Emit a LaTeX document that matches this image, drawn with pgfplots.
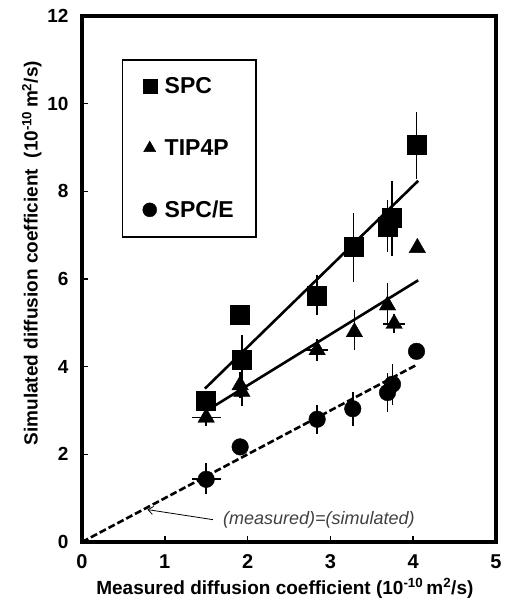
\documentclass[border=0pt]{standalone}
\usepackage{fontspec}
\setmainfont{Liberation Sans}
\usepackage{pgfplots}
\pgfplotsset{compat=1.18}
\usetikzlibrary{arrows.meta}

\begin{document}
\begin{tikzpicture}
\useasboundingbox (-82pt,-61pt) rectangle (422pt,542pt);
\begin{axis}[
  width=414pt, height=526pt, scale only axis,
  xmin=0, xmax=5, ymin=0, ymax=12,
  xtick={0,1,2,3,4,5}, ytick={0,2,4,6,8,10,12},
  tick align=inside, xtick pos=left, ytick pos=left,
  major tick length=6pt,
  tick style={line width=1.5pt,black},
  axis line style={line width=3.8pt},
  /pgf/number format/assume math mode=true,
  yticklabel style={font=\fontsize{19}{19}\selectfont\bfseries,xshift=-10pt},
  xticklabel style={font=\fontsize{20}{20}\selectfont\rmfamily\bfseries,yshift=-9.5pt},
  xlabel={Measured diffusion coefficient (10\textsuperscript{-10}\,m\textsuperscript{2}/s)},
  ylabel={Simulated diffusion coefficient \ (10\textsuperscript{-10}\,m\textsuperscript{2}/s)},
  label style={font=\fontsize{19}{19}\selectfont\bfseries},
  xlabel style={at={(axis description cs:0.49,-0.088)},anchor=center},
  ylabel style={at={(axis description cs:-0.121,0.549)},anchor=center},
  error bars/error bar style={line width=1.7pt,black},
  error bars/error mark options={mark size=4.5pt,line width=1.7pt,black},
  legend style={at={(0.0966,0.918)},anchor=north west,draw=black,line width=1.5pt,
    font=\fontsize{23}{23}\selectfont\bfseries,row sep=40pt,inner xsep=20pt,inner ysep=16pt},
  legend cell align=left,
  legend image code/.code={\draw[#1,mark size=7pt,line width=0.4pt] plot coordinates {(0pt,0pt)};},
  /tikz/every odd column/.append style={column sep=6pt},
]
% SPC
\addplot[only marks,mark=square*,mark size=9.5pt,black,mark options={line width=0.4pt},
  error bars/.cd,y dir=both,y explicit]
  coordinates {
  (1.50,3.22)
  (1.91,5.19)
  (1.93,4.15) += (0,0.47) -= (0,0.30)
  (2.84,5.63) += (0,0.37) -= (0,0.36)
  (3.28,6.74) += (0,0.66) -= (0,0.71)
  (3.69,7.20) += (0,0.50) -= (0,0.49)
  (3.74,7.39) += (0,0.74) -= (0,0.77)
  (4.04,9.06) += (0,0.65) -= (0,0.68)
  };
\addlegendentry{SPC}
% TIP4P
\addplot[only marks,mark=triangle*,mark size=9.5pt,black,mark options={line width=0.4pt},
  error bars/.cd,y dir=both,y explicit,x dir=both,x explicit]
  coordinates {
  (1.50,2.84) +- (0.12,0.10)
  (1.91,3.58) +- (0,0.20)
  (1.93,3.43) += (0,0.20) -= (0,0.23)
  (2.84,4.38) +- (0.08,0.15)
  (3.29,4.79) += (0,0.41) -= (0,0.31)
  (3.69,5.40) += (0,0.41) -= (0,0.30)
  (3.77,4.98) +- (0.08,0.12)
  (4.05,6.71)
  };
\addlegendentry{TIP4P}
% SPC/E
\addplot[only marks,mark=*,mark size=8.3pt,black,mark options={line width=0.4pt},
  error bars/.cd,y dir=both,y explicit,x dir=both,x explicit]
  coordinates {
  (1.50,1.43) += (0.12,0.26) -= (0.12,0.24)
  (1.91,2.17)
  (2.84,2.80) +- (0,0.23)
  (3.27,3.04) +- (0,0.28)
  (3.69,3.41) +- (0,0.34)
  (3.75,3.60) += (0,0.35) -= (0,0.38)
  (4.04,4.35)
  };
\addlegendentry{SPC/E}
% fitted lines
\addplot[black,line width=2.6pt,forget plot] coordinates {(1.485,3.50) (4.06,8.24)};
\addplot[black,line width=2.6pt,forget plot] coordinates {(1.50,2.99) (4.06,5.97)};
\addplot[black,line width=2.6pt,dash pattern=on 7pt off 3pt,forget plot] coordinates {(0,0) (4.05,4.05)};
% annotation
\draw[-{Straight Barb[length=5pt,width=8pt]},line width=0.8pt] (axis cs:1.58,0.51) -- (axis cs:0.79,0.74);
\node[font=\fontsize{18}{18}\selectfont\itshape,text=black!75] at (axis cs:2.86,0.50) {(measured)=(simulated)};
\end{axis}
\end{tikzpicture}
\end{document}
